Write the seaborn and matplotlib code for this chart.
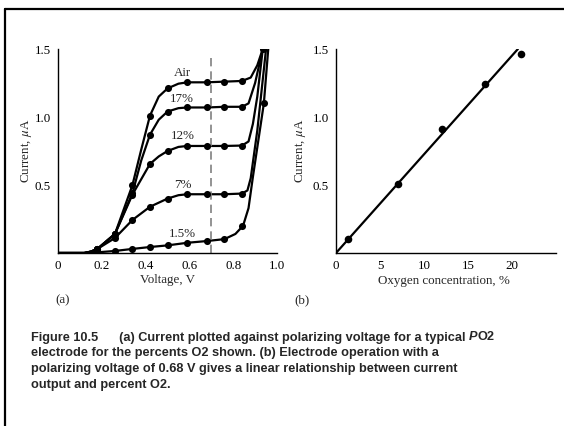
import numpy as np
import pandas as pd
import seaborn as sns
import matplotlib
matplotlib.use("Agg")
import matplotlib.pyplot as plt
from matplotlib.lines import Line2D
from matplotlib.ticker import MultipleLocator, FuncFormatter

# ---------------- data ----------------
# Panel (a): current (uA) vs polarizing voltage (V), marked points
volt_marks = [0.18, 0.26, 0.34, 0.42, 0.50, 0.59, 0.68, 0.76, 0.84]
air_marks = [0.03, 0.14, 0.50, 1.01, 1.21, 1.255, 1.255, 1.26, 1.265]
o17_marks = [0.03, 0.14, 0.44, 0.87, 1.04, 1.07, 1.07, 1.075, 1.075]
o12_marks = [0.03, 0.14, 0.43, 0.655, 0.75, 0.787, 0.787, 0.787, 0.79]
o7_marks = [0.03, 0.11, 0.243, 0.34, 0.40, 0.432, 0.432, 0.432, 0.437]
o15_marks = [0.005, 0.015, 0.03, 0.044, 0.056, 0.075, 0.088, 0.102, 0.20]
extra_mark_v = [0.935, 0.94]
extra_mark_i = [1.50, 1.10]

# Panel (a): traced curve shapes
air_v = [0.0, 0.12, 0.15, 0.18, 0.26, 0.34, 0.38, 0.42, 0.46, 0.50, 0.55, 0.59, 0.68, 0.76, 0.84, 0.88, 0.91, 0.935]
air_i = [0.0, 0.0, 0.01, 0.03, 0.14, 0.50, 0.76, 1.01, 1.15, 1.21, 1.245, 1.255, 1.255, 1.26, 1.265, 1.29, 1.38, 1.50]
o17_v = [0.0, 0.12, 0.15, 0.18, 0.26, 0.34, 0.38, 0.42, 0.46, 0.50, 0.55, 0.59, 0.68, 0.76, 0.84, 0.87, 0.90, 0.935]
o17_i = [0.0, 0.0, 0.01, 0.03, 0.14, 0.44, 0.68, 0.87, 0.98, 1.04, 1.065, 1.07, 1.07, 1.075, 1.075, 1.10, 1.25, 1.50]
o12_v = [0.0, 0.12, 0.15, 0.18, 0.26, 0.34, 0.42, 0.46, 0.50, 0.55, 0.59, 0.68, 0.76, 0.84, 0.87, 0.89, 0.91, 0.935]
o12_i = [0.0, 0.0, 0.01, 0.03, 0.14, 0.43, 0.655, 0.71, 0.75, 0.78, 0.787, 0.787, 0.787, 0.79, 0.82, 0.95, 1.15, 1.50]
o7_v = [0.0, 0.12, 0.15, 0.18, 0.26, 0.34, 0.42, 0.50, 0.55, 0.59, 0.68, 0.76, 0.84, 0.865, 0.88, 0.91, 0.95]
o7_i = [0.0, 0.0, 0.01, 0.03, 0.11, 0.243, 0.34, 0.40, 0.425, 0.432, 0.432, 0.432, 0.437, 0.46, 0.55, 0.90, 1.50]
o15_v = [0.0, 0.12, 0.18, 0.26, 0.34, 0.42, 0.50, 0.59, 0.68, 0.76, 0.81, 0.845, 0.87, 0.89, 0.94, 0.96]
o15_i = [0.0, 0.0, 0.005, 0.015, 0.03, 0.044, 0.056, 0.075, 0.088, 0.102, 0.14, 0.20, 0.33, 0.56, 1.10, 1.50]

curve_labels = ["Air", "17%", "12%", "7%", "1.5%"]
label_x = [0.566, 0.566, 0.57, 0.57, 0.57]
label_y = [1.32, 1.13, 0.86, 0.50, 0.14]
dash_v = 0.70

# Panel (b): current vs oxygen concentration at 0.68 V
oxy_pct = [1.4, 7.0, 12.1, 17.0, 21.0]
oxy_cur = [0.10, 0.51, 0.91, 1.24, 1.46]
fit_x = [0.0, 20.7]
fit_y = [0.0, 1.50]

caption_lines = [
    "electrode for the percents O2 shown. (b) Electrode operation with a",
    "polarizing voltage of 0.68 V gives a linear relationship between current",
    "output and percent O2.",
]

# ---------------- figure ----------------
sns.set_theme(style="white")
plt.rcParams["font.family"] = ["Liberation Serif", "DejaVu Serif"]
plt.rcParams["mathtext.fontset"] = "stix"

W, H = 564, 426
fig = plt.figure(figsize=(W / 100, H / 100), dpi=100)
fig.patch.set_facecolor("white")

def fr(x0, y0, x1, y1):
    return [x0 / W, 1 - y1 / H, (x1 - x0) / W, (y1 - y0) / H]

axA = fig.add_axes(fr(58, 49, 277, 253))
axB = fig.add_axes(fr(336, 49, 555.7, 253))

serif = ["Liberation Serif", "DejaVu Serif"]
tick_fs = 9.4
lab_fs = 9.4

def style_axis(ax):
    for s in ["top", "right"]:
        ax.spines[s].set_visible(False)
    for s in ["left", "bottom"]:
        ax.spines[s].set_color("black")
        ax.spines[s].set_linewidth(1.0)
    ax.tick_params(axis="both", which="major", direction="in", length=7,
                   width=1.0, color="black", labelsize=tick_fs, pad=5,
                   labelcolor="black")
    ax.yaxis.set_major_locator(MultipleLocator(0.1))
    ax.yaxis.set_major_formatter(FuncFormatter(
        lambda v, p: ("%.1f" % v) if (abs(v * 2 - round(v * 2)) < 1e-6 and v > 0.01) else ""))
    ax.set_ylim(0, 1.5)
    ax.grid(False)
    ax.set_facecolor("white")

# Panel (a)
curves = [(air_v, air_i), (o17_v, o17_i), (o12_v, o12_i), (o7_v, o7_i), (o15_v, o15_i)]
for (v, i), lab in zip(curves, curve_labels):
    d = pd.DataFrame({"V": v, "I": i})
    sns.lineplot(data=d, x="V", y="I", ax=axA, color="black", lw=1.6,
                 sort=False, estimator=None)
marks = [air_marks, o17_marks, o12_marks, o7_marks, o15_marks]
mv, mi = [], []
for m in marks:
    mv += volt_marks
    mi += m
mv += extra_mark_v
mi += extra_mark_i
sns.scatterplot(x=mv, y=mi, ax=axA, color="black", s=26, edgecolor="black",
                linewidth=0, zorder=5)
axA.axvline(dash_v, ymin=0, ymax=1.47 / 1.5, color="#808080", lw=1.2,
            ls=(0, (5, 3)))
for lx, ly, t in zip(label_x, label_y, curve_labels):
    axA.text(lx, ly, t, ha="center", va="center", fontsize=lab_fs, family=serif)
style_axis(axA)
axA.set_xlim(0, 1.0)
axA.xaxis.set_major_locator(MultipleLocator(0.1))
axA.xaxis.set_major_formatter(FuncFormatter(
    lambda v, p: "0" if abs(v) < 1e-6 else (("%.1f" % v) if abs(v * 5 - round(v * 5)) < 1e-6 else "")))
axA.set_xlabel("Voltage, V", fontsize=lab_fs, family=serif, va="center")
axA.set_ylabel(r"Current, $\mu$A", fontsize=lab_fs, family=serif, va="center")
axA.xaxis.set_label_coords(0.5, (253 - 280) / 204)
axA.yaxis.set_label_coords((26 - 58) / 219, 0.5)

# Panel (b)
sns.lineplot(x=fit_x, y=fit_y, ax=axB, color="black", lw=1.6)
sns.scatterplot(x=oxy_pct, y=oxy_cur, ax=axB, color="black", s=30,
                linewidth=0, zorder=5)
style_axis(axB)
axB.set_xlim(0, 25)
axB.set_xticks([0, 2.5, 5, 7.5, 10, 12.5, 15, 17.5, 20, 22.5])
axB.xaxis.set_major_formatter(FuncFormatter(
    lambda v, p: ("%d" % round(v)) if abs(v / 5 - round(v / 5)) < 1e-6 else ""))
axB.set_xlabel("Oxygen concentration, %", fontsize=lab_fs, family=serif, va="center")
axB.set_ylabel(r"Current, $\mu$A", fontsize=lab_fs, family=serif, va="center")
axB.xaxis.set_label_coords((443.5 - 336) / 219.7, (253 - 281) / 204)
axB.yaxis.set_label_coords((301 - 336) / 219.7, 0.5)

# panel letters
fig.text(63 / W, 1 - 300 / H, "(a)", fontsize=lab_fs, family=serif,
         va="center", ha="center")
fig.text(302 / W, 1 - 300 / H, "(b)", fontsize=lab_fs, family=serif,
         va="center", ha="center")

# caption
cap_fs = 9.2
sans = ["Liberation Sans", "DejaVu Sans"]
cap_x = 31
y0 = 337.5
dy = 15.7
t1 = fig.text(cap_x / W, 1 - y0 / H,
              "Figure 10.5      (a) Current plotted against polarizing voltage for a typical ",
              fontsize=cap_fs, fontweight="bold", family=sans, va="center")
t2 = fig.text(0, 0, "P", fontsize=cap_fs, fontweight="bold", style="italic",
              family=sans, va="center")
t3 = fig.text(0, 0, "O2", fontsize=cap_fs, fontweight="bold", family=sans,
              va="center")
fig.canvas.draw()
r = fig.canvas.get_renderer()
bb1 = t1.get_window_extent(r)
t2.set_position(((bb1.x1) / W, 1 - y0 / H))
bb2 = t2.get_window_extent(r)
t3.set_position(((bb2.x1 + 0.3) / W, 1 - y0 / H))
for k, line in enumerate(caption_lines):
    fig.text(cap_x / W, 1 - (y0 + dy * (k + 1)) / H, line, fontsize=cap_fs,
             fontweight="bold", family=sans, va="center")

# frame lines
fig.add_artist(Line2D([4.5 / W, 1.0], [1 - 9 / H, 1 - 9 / H], color="black",
                      lw=1.6, transform=fig.transFigure))
fig.add_artist(Line2D([4.5 / W, 4.5 / W], [1 - 9 / H, 0.0], color="black",
                      lw=1.6, transform=fig.transFigure))

fig.savefig("out.png", dpi=100, facecolor="white")
